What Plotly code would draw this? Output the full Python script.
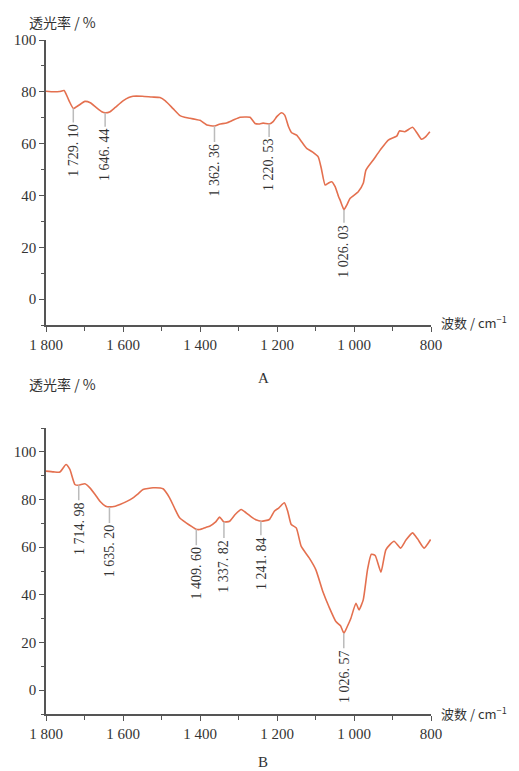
import plotly.graph_objects as go

# ---- data ----
wn_a = [1800, 1780, 1765, 1753, 1740, 1729, 1715, 1699, 1685, 1670, 1655, 1646, 1635, 1620, 1600,
        1585, 1574, 1550, 1525, 1504, 1490, 1470, 1452, 1440, 1426, 1410, 1400, 1390, 1382, 1362,
        1350, 1331, 1315, 1296, 1280, 1270, 1257, 1245, 1236, 1220, 1210, 1200, 1188, 1180, 1170,
        1162, 1149, 1135, 1123, 1108, 1093, 1085, 1075, 1066, 1058, 1049, 1040, 1036, 1026, 1018,
        1010, 989, 976, 969, 950, 932, 911, 889, 882, 868, 848, 835, 825, 815, 803]
t_a = [80.2, 80.0, 80.1, 80.5, 76.5, 73.6, 74.8, 76.3, 75.8, 74.0, 72.3, 71.9, 72.2, 74.0, 76.5,
       77.8, 78.3, 78.3, 78.0, 77.8, 76.5, 73.5, 70.8, 70.2, 69.8, 69.3, 69.0, 68.0, 67.2, 66.8,
       67.5, 68.0, 69.0, 70.2, 70.3, 70.2, 67.8, 67.6, 67.9, 67.6, 68.5, 70.5, 71.9, 71.0, 66.5,
       64.2, 63.3, 60.5, 58.2, 56.8, 54.9, 50.5, 44.0, 44.8, 45.3, 43.4, 39.5, 38.2, 34.5, 36.5,
       38.9, 41.4, 44.7, 49.8, 53.7, 57.5, 61.4, 62.9, 64.9, 64.6, 66.3, 63.8, 61.7, 62.5, 64.6]

wn_b = [1800, 1780, 1764, 1748, 1738, 1725, 1715, 1699, 1686, 1672, 1660, 1645, 1635, 1620, 1608,
        1590, 1574, 1560, 1548, 1522, 1496, 1479, 1465, 1453, 1436, 1420, 1410, 1401, 1385, 1375,
        1360, 1349, 1338, 1323, 1308, 1293, 1280, 1265, 1255, 1241, 1220, 1207, 1195, 1181, 1172,
        1163, 1150, 1137, 1116, 1099, 1081, 1065, 1047, 1035, 1026, 1018, 1008, 995, 987, 976,
        965, 955, 945, 930, 917, 896, 879, 865, 848, 835, 818, 801]
t_b = [91.9, 91.6, 91.5, 94.7, 92.6, 86.3, 86.0, 86.6, 84.9, 82.0, 79.3, 77.2, 76.9, 77.2, 77.9,
       79.2, 80.7, 82.5, 84.2, 84.9, 84.5, 80.7, 76.0, 72.3, 70.2, 68.5, 67.5, 67.4, 68.3, 68.8,
       70.5, 72.6, 70.6, 70.9, 73.8, 75.8, 74.4, 72.5, 71.5, 70.9, 71.6, 75.1, 76.5, 78.6, 75.0,
       69.5, 68.1, 60.3, 55.4, 50.5, 41.4, 35.0, 28.8, 27.0, 23.9, 26.5, 30.2, 36.5, 33.7, 37.9,
       50.5, 57.0, 56.5, 49.5, 59.0, 62.5, 59.6, 63.0, 66.0, 63.5, 59.6, 63.2]

peaks_a = [1729.10, 1646.44, 1362.36, 1220.53, 1026.03]
peak_t_a = [73.6, 71.9, 66.8, 67.6, 34.5]
labels_a = ["1 729. 10", "1 646. 44", "1 362. 36", "1 220. 53", "1 026. 03"]

peaks_b = [1714.98, 1635.20, 1409.60, 1337.82, 1241.84, 1026.57]
peak_t_b = [86.0, 76.9, 67.5, 70.6, 70.9, 23.9]
labels_b = ["1 714. 98", "1 635. 20", "1 409. 60", "1 337. 82", "1 241. 84", "1 026. 57"]

x_ticks = [1800, 1600, 1400, 1200, 1000, 800]
x_tick_text = ["1 800", "1 600", "1 400", "1 200", "1 000", "800"]

# ---- layout helpers ----
W, H = 519, 771
def px(x):
    return x / W
def py(y):
    return 1 - y / H

LINE = "#E4704F"
AX = "#555555"
TXT = "#333333"
SERIF = "Liberation Serif, Times New Roman, serif"
CJK = "Noto Sans CJK SC"

fig = go.Figure()
fig.add_trace(go.Scatter(x=wn_a, y=t_a, mode="lines",
                         line=dict(color=LINE, width=1.6, shape="spline", smoothing=0.5),
                         xaxis="x", yaxis="y", showlegend=False, hoverinfo="skip"))
fig.add_trace(go.Scatter(x=wn_b, y=t_b, mode="lines",
                         line=dict(color=LINE, width=1.6, shape="spline", smoothing=0.5),
                         xaxis="x2", yaxis="y2", showlegend=False, hoverinfo="skip"))

def xaxis(anchor):
    return dict(domain=[px(46), px(431)], anchor=anchor, range=[1800, 800], automargin=False,
                showgrid=False, zeroline=False, showline=True, linecolor=AX, linewidth=1.5,
                ticks="outside", ticklen=5, tickwidth=1.2, tickcolor=AX,
                tickvals=x_ticks, ticktext=x_tick_text,
                tickfont=dict(family=SERIF, size=15, color=TXT),
                minor=dict(tickvals=[1700, 1500, 1300, 1100, 900], ticks="outside",
                           ticklen=4, tickwidth=1.2, tickcolor=AX))

def yaxis(anchor, dom, rng):
    return dict(domain=dom, anchor=anchor, range=rng, automargin=False,
                showgrid=False, zeroline=False, showline=True, linecolor=AX, linewidth=1.5,
                ticks="outside", ticklen=5, tickwidth=1.2, tickcolor=AX,
                tickvals=[0, 20, 40, 60, 80, 100],
                tickfont=dict(family=SERIF, size=15, color=TXT),
                minor=dict(tickvals=[-10, 10, 30, 50, 70, 90, 110], ticks="outside",
                           ticklen=3, tickwidth=1.2, tickcolor=AX))

fig.update_layout(
    width=W, height=H, margin=dict(l=0, r=0, t=0, b=0, autoexpand=False),
    paper_bgcolor="white", plot_bgcolor="white",
    xaxis=xaxis("y"),
    yaxis=yaxis("x", [py(325), py(40)], [-10, 100]),
    xaxis2=xaxis("y2"),
    yaxis2=yaxis("x2", [py(714), py(428)], [-10, 110]),
)

ann = []
def peak_ann(xs, ys, texts, xref, yref, offs):
    for x, y, t, o in zip(xs, ys, texts, offs):
        ann.append(dict(x=x, y=y, xref=xref, yref=yref, text=t, textangle=-90,
                        showarrow=True, arrowhead=0, arrowwidth=1.5, arrowcolor="#BBBBBB",
                        ax=0, ay=o, axref="pixel", ayref="pixel", standoff=0,
                        font=dict(family=SERIF, size=14, color=TXT)))

peak_ann(peaks_a, peak_t_a, labels_a, "x", "y", [42, 42, 44, 41, 41])
peak_ann(peaks_b, peak_t_b, labels_b, "x2", "y2", [43, 44, 44, 44, 42, 43])

for y0 in (22, 384):
    ann.append(dict(x=px(27), y=py(y0), xref="paper", yref="paper", xanchor="left",
                    yanchor="middle", showarrow=False, text="透光率 / %",
                    font=dict(family=CJK, size=14, color=TXT)))
for y0 in (322, 713):
    ann.append(dict(x=px(439), y=py(y0), xref="paper", yref="paper", xanchor="left",
                    yanchor="middle", showarrow=False, text="波数 / cm<sup>−1</sup>",
                    font=dict(family=CJK, size=13, color=TXT)))
for y0, t in ((378, "A"), (762, "B")):
    ann.append(dict(x=px(263), y=py(y0), xref="paper", yref="paper", xanchor="center",
                    yanchor="middle", showarrow=False, text=t,
                    font=dict(family=SERIF, size=15, color=TXT)))

fig.update_layout(annotations=ann)
fig.write_html("out.html")
